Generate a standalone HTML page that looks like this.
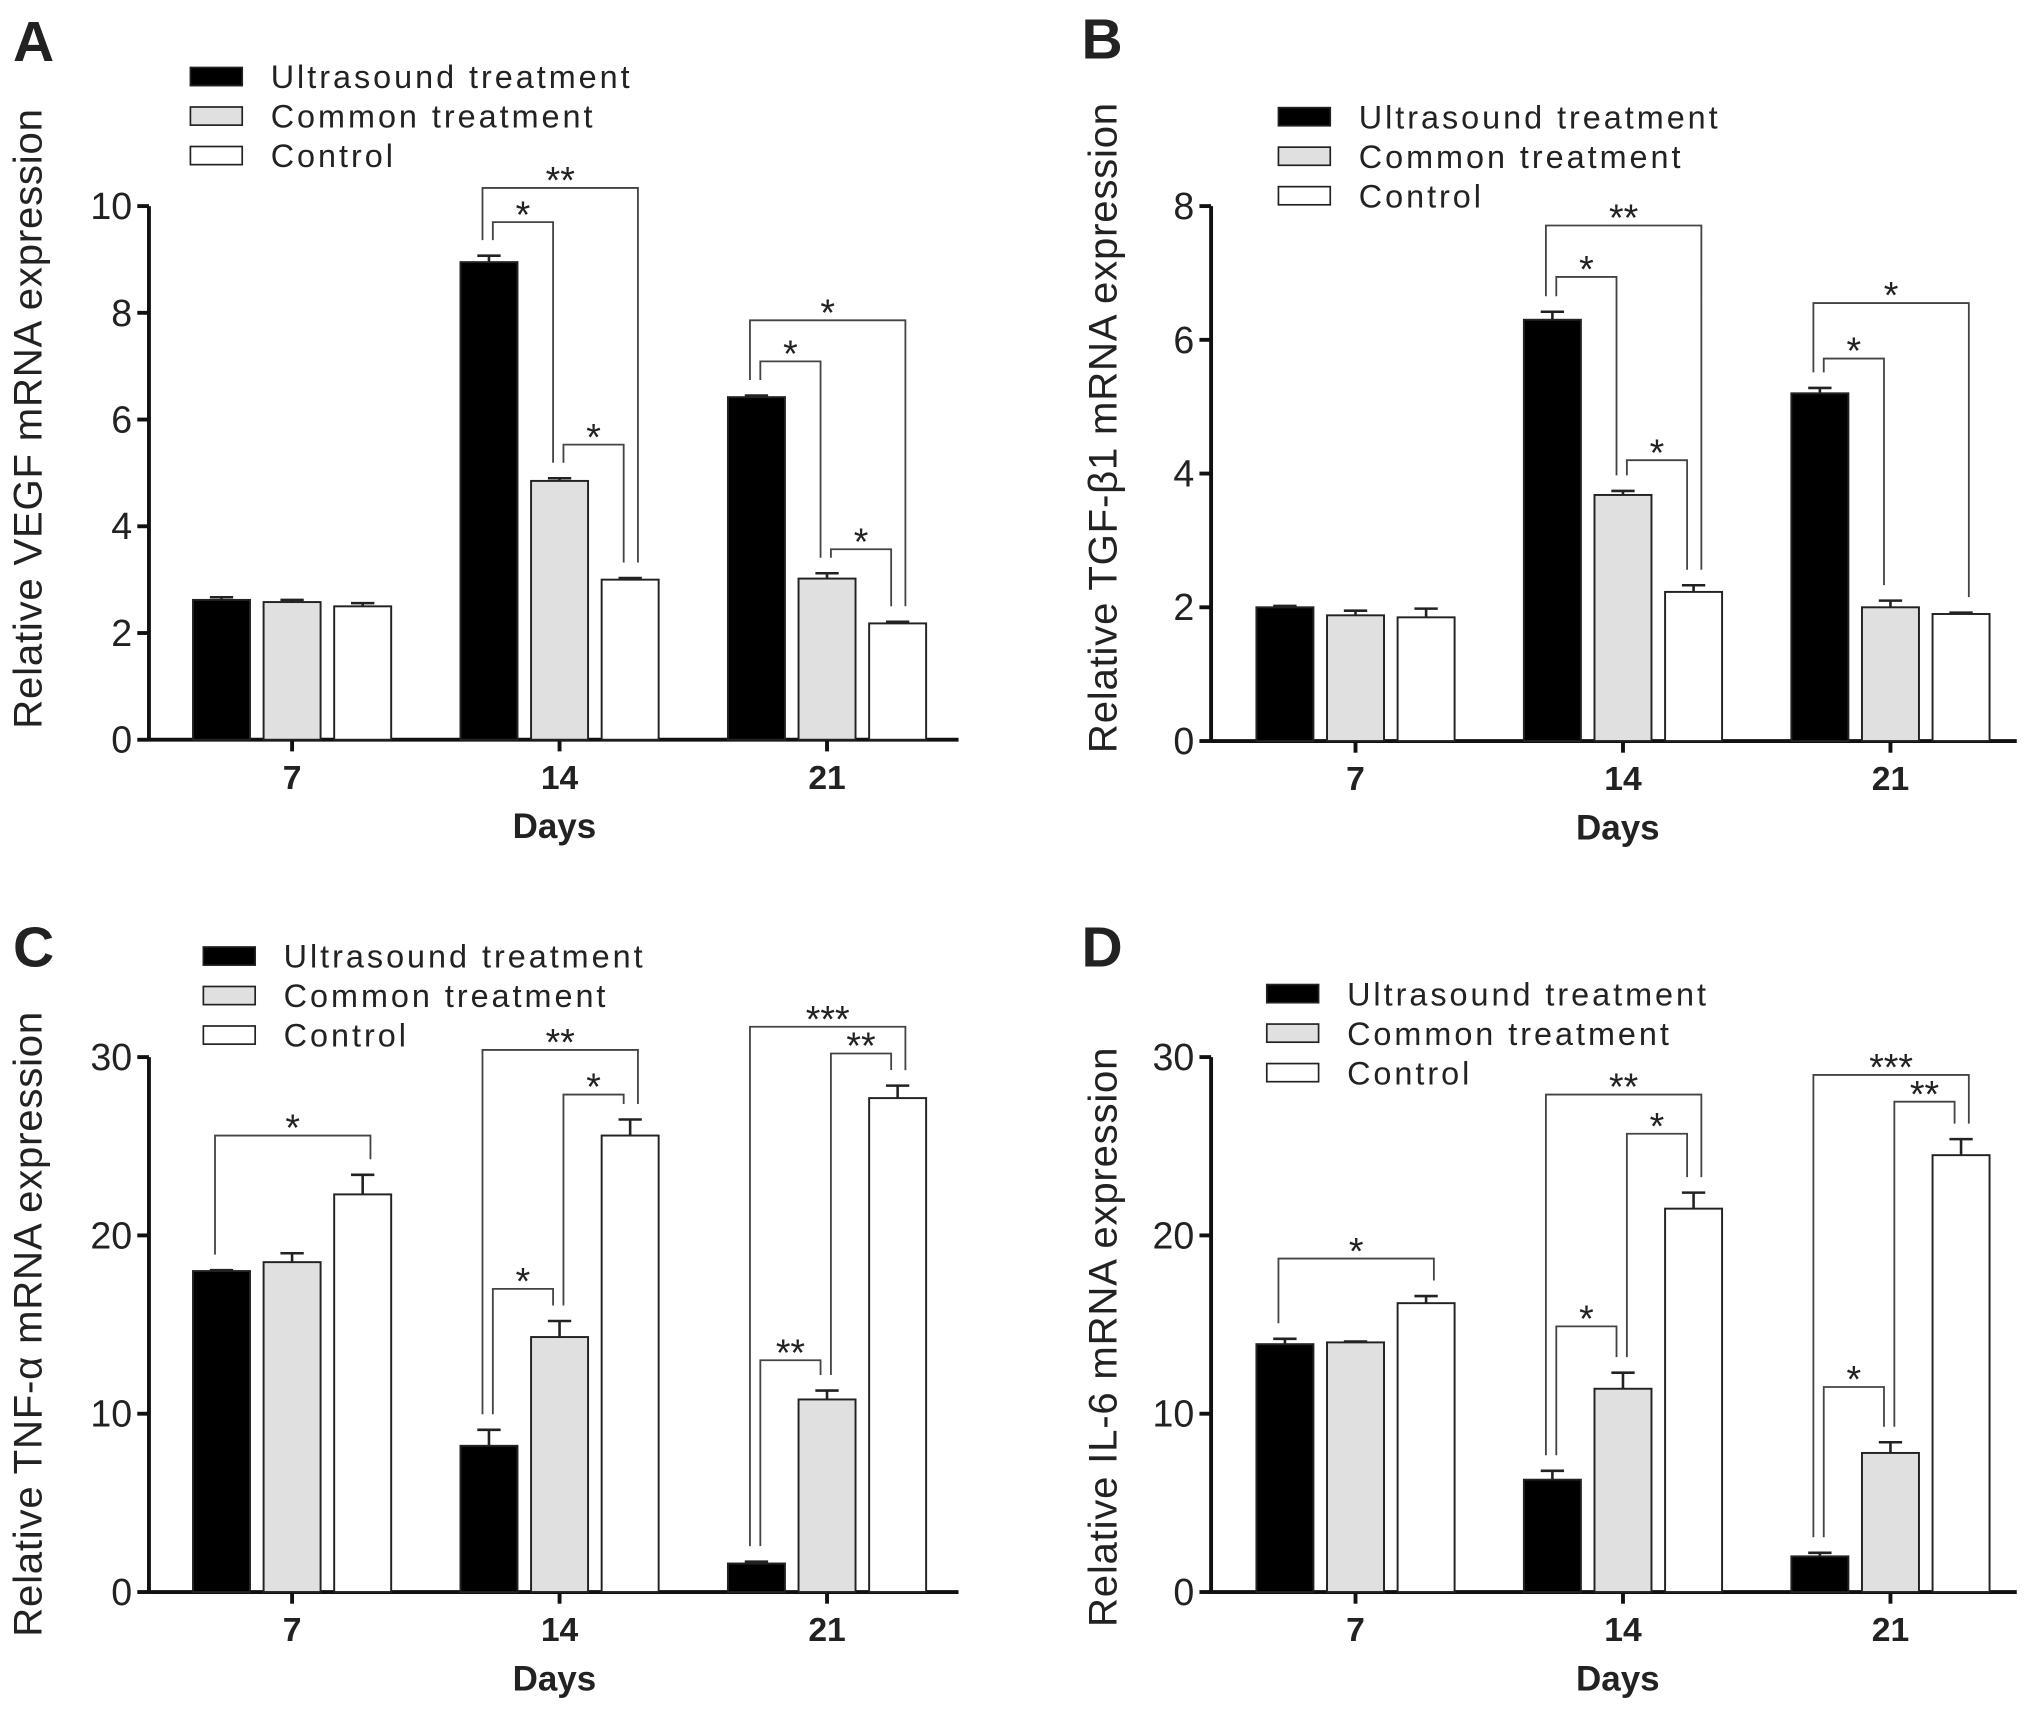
<!DOCTYPE html>
<html><head><meta charset="utf-8"><style>
html,body{margin:0;padding:0;background:#fff}
svg{display:block}
text{font-family:"Liberation Sans",Arial,sans-serif;fill:#222}
</style></head><body>
<svg id="fig" width="2031" height="1723" viewBox="0 0 1568 1330" xmlns="http://www.w3.org/2000/svg"></svg>
<script>
const series = ["Ultrasound treatment","Common treatment","Control"];
const days = ["7","14","21"];
const vegfValues = [[2.62,2.58,2.5],[8.95,4.85,3.0],[6.42,3.02,2.18]];
const vegfErrors = [[0.05,0.04,0.06],[0.12,0.05,0.03],[0.03,0.1,0.03]];
const tgfValues = [[2.0,1.88,1.85],[6.3,3.68,2.23],[5.2,2.0,1.9]];
const tgfErrors = [[0.02,0.07,0.13],[0.12,0.06,0.1],[0.08,0.1,0.02]];
const tnfValues = [[18.0,18.5,22.3],[8.2,14.3,25.6],[1.6,10.8,27.7]];
const tnfErrors = [[0.05,0.5,1.1],[0.9,0.9,0.9],[0.1,0.5,0.7]];
const il6Values = [[13.9,14.0,16.2],[6.3,11.4,21.5],[2.0,7.8,24.5]];
const il6Errors = [[0.3,0.05,0.4],[0.5,0.9,0.9],[0.2,0.6,0.9]];
const vegfTicks = [0,2,4,6,8,10];
const tgfTicks = [0,2,4,6,8];
const tnfTicks = [0,10,20,30];
const il6Ticks = [0,10,20,30];
// significance brackets: [group, fromBar, toBar, heightValue, label]
const vegfSig = [[1,0,2,10.34,"**"],[1,0,1,9.7,"*"],[1,1,2,5.53,"*"],[2,0,2,7.86,"*"],[2,0,1,7.09,"*"],[2,1,2,3.57,"*"]];
const tgfSig = [[1,0,2,7.71,"**"],[1,0,1,6.94,"*"],[1,1,2,4.2,"*"],[2,0,2,6.55,"*"],[2,0,1,5.72,"*"]];
const tnfSig = [[0,0,2,25.6,"*"],[1,0,2,30.4,"**"],[1,1,2,27.9,"*"],[1,0,1,17.0,"*"],[2,0,2,31.7,"***"],[2,1,2,30.2,"**"],[2,0,1,13.0,"**"]];
const il6Sig = [[0,0,2,18.7,"*"],[1,0,2,27.9,"**"],[1,1,2,25.7,"*"],[1,0,1,14.9,"*"],[2,0,2,29.0,"***"],[2,1,2,27.5,"**"],[2,0,1,11.5,"*"]];

const NS="http://www.w3.org/2000/svg";
const svg=document.getElementById('fig');
function mk(tag,attrs,parent,txt){const e=document.createElementNS(NS,tag);for(const k in attrs)e.setAttribute(k,attrs[k]);if(txt!==undefined)e.textContent=txt;(parent||svg).appendChild(e);return e;}

const fills=["#000","#e0e0e0","#fff"];
function panel(o){
  const g=mk('g',{});
  
  
  const ax=o.ax, y0=o.y0, ytop=o.ytop, ymax=o.ticks[o.ticks.length-1];
  const yS=v=>y0-(y0-ytop)*v/ymax;
  const L=mk('text',{x:o.lx,y:o.ly,'font-size':44,'font-weight':'bold',fill:'#111'},g,o.letter);
  
  series.forEach((s,i)=>{
    const r=mk('rect',{x:o.legx,y:o.legy+i*30.5-7,width:40,height:14,fill:fills[i],stroke:'#222','stroke-width':1.3},g);
    
    const t=mk('text',{x:o.legx+62,y:o.legy+i*30.5+9,'font-size':25,'letter-spacing':2.3},g,s);
    
  });
  const ya=mk('line',{x1:ax,y1:y0+1,x2:ax,y2:ytop,stroke:'#111','stroke-width':3},g);
  
  const xa=mk('line',{x1:ax,y1:y0,x2:o.xend,y2:y0,stroke:'#111','stroke-width':3},g);
  
  o.ticks.forEach(v=>{
    mk('line',{x1:ax-9,y1:yS(v),x2:ax,y2:yS(v),stroke:'#111','stroke-width':3},g);
    const t=mk('text',{x:ax-13,y:yS(v)+10,'font-size':29,'text-anchor':'end'},g,String(v));
    
  });
  const yt=mk('text',{x:0,y:0,'font-size':31,'text-anchor':'middle',transform:`translate(${o.ytx},${o.yty}) rotate(-90)`,'letter-spacing':0.6},g,o.ytitle);
  
  const bw=44, gap=54.5, gstep=206.5;
  const barX=(gi,bi)=>o.gx0+gi*gstep+bi*gap;
  const cen=(gi,bi)=>barX(gi,bi)+bw/2;
  days.forEach((d,gi)=>{
    const cx=cen(gi,1);
    mk('line',{x1:cx,y1:y0,x2:cx,y2:y0+9,stroke:'#111','stroke-width':3},g);
    const t=mk('text',{x:cx,y:y0+38,'font-size':26,'font-weight':'bold','text-anchor':'middle'},g,d);
    
    o.vals[gi].forEach((v,bi)=>{
      const x=barX(gi,bi), e=o.errs[gi][bi], c=cen(gi,bi);
      const el=mk('line',{x1:c,y1:yS(v),x2:c,y2:yS(v+e),stroke:'#222','stroke-width':2},g);
      
      mk('line',{x1:c-9,y1:yS(v+e),x2:c+9,y2:yS(v+e),stroke:'#222','stroke-width':2},g);
      const r=mk('rect',{x:x,y:yS(v),width:bw,height:y0-yS(v),fill:fills[bi],stroke:'#222','stroke-width':1.5},g);
      
      
    });
  });
  const xt=mk('text',{x:cen(1,1)-4,y:y0+76,'font-size':27,'font-weight':'bold','text-anchor':'middle'},g,'Days');
  
  o.sig.forEach(s=>{
    const [gi,a,b,h,lab]=s;
    const outer=(b-a)===2;
    const xa_=cen(gi,a)+(outer?-5:3), xb_=cen(gi,b)+(outer?6:-5);
    const ya_=yS(o.vals[gi][a]+o.errs[gi][a])-12, yb_=yS(o.vals[gi][b]+o.errs[gi][b])-12;
    const yh=yS(h);
    const p=mk('polyline',{points:`${xa_},${ya_} ${xa_},${yh} ${xb_},${yh} ${xb_},${yb_}`,fill:'none',stroke:'#444','stroke-width':1.4},g);
    
    const t=mk('text',{x:(xa_+xb_)/2,y:yh+4,'font-size':29,'text-anchor':'middle',fill:'#333'},g,lab);
    
  });
}
panel({letter:'A',lx:10,ly:47,legx:147,legy:59,ax:115,y0:571,ytop:159,xend:740,gx0:149,ticks:vegfTicks,vals:vegfValues,errs:vegfErrors,sig:vegfSig,ytitle:'Relative VEGF mRNA expression',ytx:32,yty:323});
panel({letter:'B',lx:835,ly:45,legx:987,legy:90,ax:935,y0:572,ytop:159,xend:1557,gx0:970,ticks:tgfTicks,vals:tgfValues,errs:tgfErrors,sig:tgfSig,ytitle:'Relative TGF-β1 mRNA expression',ytx:862,yty:330});
panel({letter:'C',lx:10,ly:746,legx:157,legy:738,ax:115,y0:1229,ytop:816,xend:740,gx0:149,ticks:tnfTicks,vals:tnfValues,errs:tnfErrors,sig:tnfSig,ytitle:'Relative TNF-α mRNA expression',ytx:32,yty:1022});
panel({letter:'D',lx:835,ly:746,legx:978,legy:767,ax:935,y0:1229,ytop:816,xend:1557,gx0:970,ticks:il6Ticks,vals:il6Values,errs:il6Errors,sig:il6Sig,ytitle:'Relative IL-6 mRNA expression',ytx:862,yty:1032});
</script>
</body></html>
